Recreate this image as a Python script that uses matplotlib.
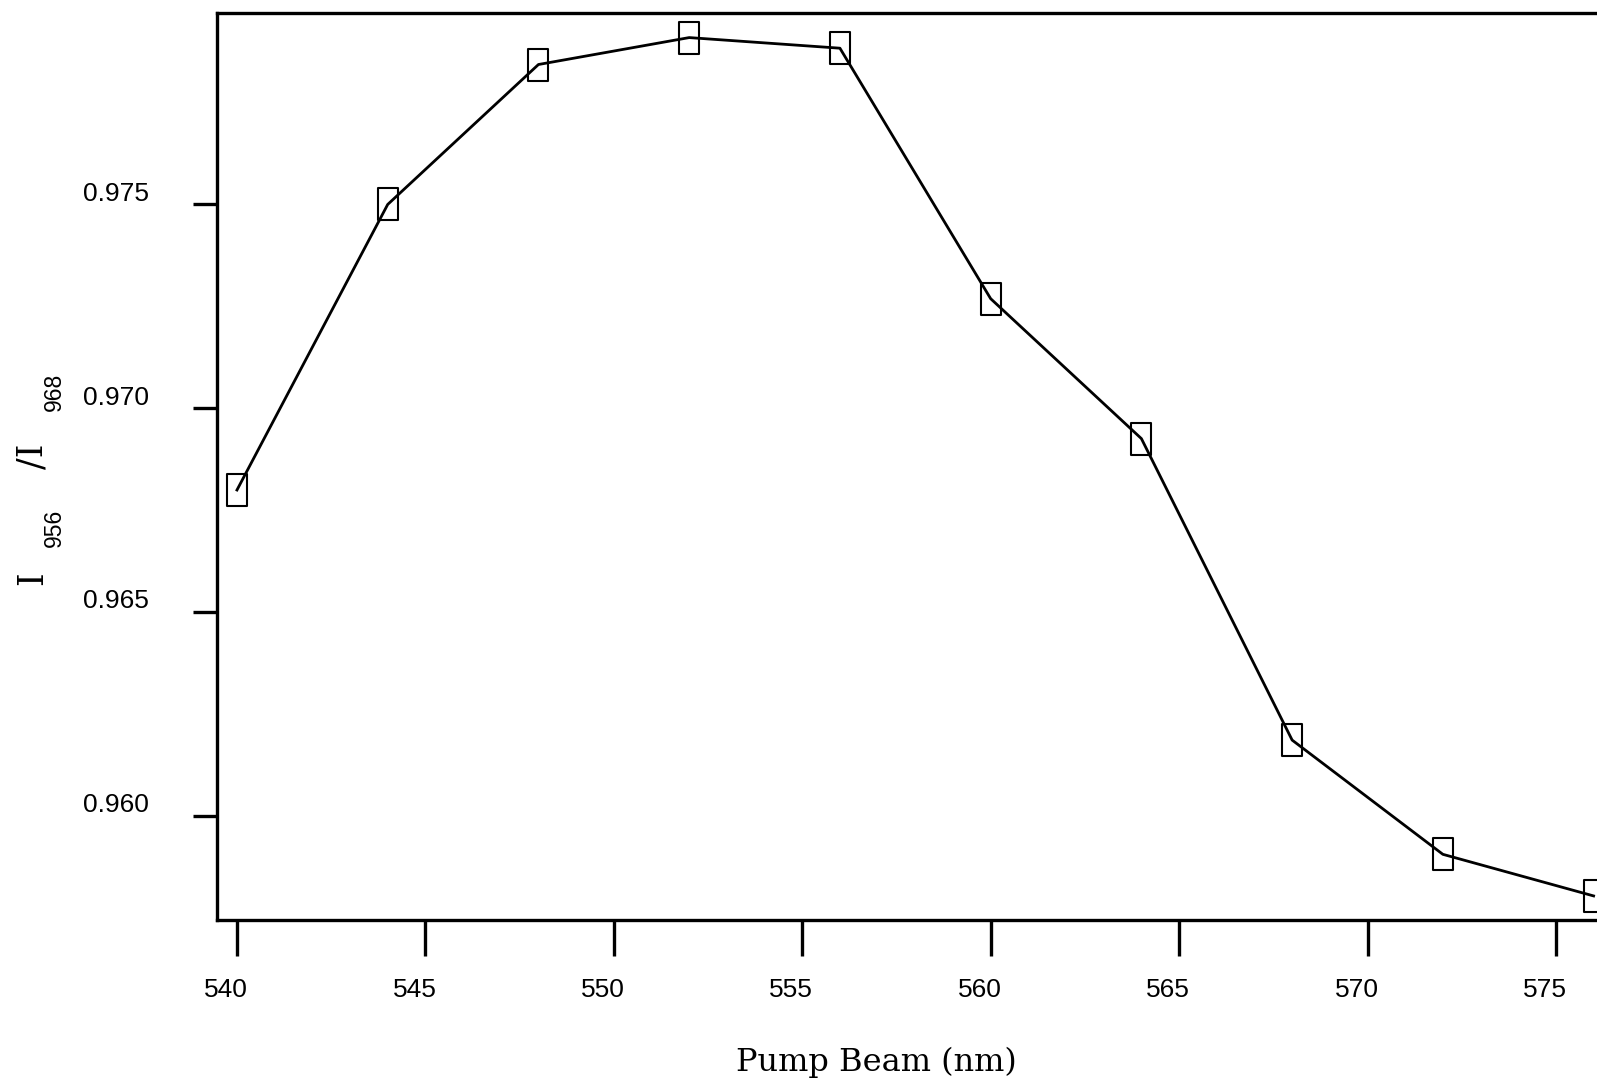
import matplotlib
matplotlib.use("Agg")
import matplotlib.pyplot as plt
from matplotlib.path import Path
from matplotlib.transforms import ScaledTranslation

# Data
pump_nm = [540, 544, 548, 552, 556, 560, 564, 568, 572, 576]
ratio = [0.96799, 0.97499, 0.97842, 0.97908, 0.97882, 0.97268, 0.96925, 0.96186, 0.95906, 0.95804]
xticks = [540, 545, 550, 555, 560, 565, 570, 575]
yticks = [0.960, 0.965, 0.970, 0.975]
ytick_labels = ["0.960", "0.965", "0.970", "0.975"]

W, H = 1597, 1085
fig = plt.figure(figsize=(W / 100, H / 100), dpi=100)
left, right, top, bottom = 217, 1597, 12.7, 920
ax = fig.add_axes([left / W, 1 - bottom / H, (right - left) / W, (bottom - top) / H])

rect = Path([(-0.32, -0.5), (0.32, -0.5), (0.32, 0.5), (-0.32, 0.5), (-0.32, -0.5)],
            [Path.MOVETO, Path.LINETO, Path.LINETO, Path.LINETO, Path.CLOSEPOLY])

ax.plot(pump_nm, ratio, color="black", lw=2.0, marker=rect, markersize=23,
        markerfacecolor="none", markeredgecolor="black", markeredgewidth=1.5,
        clip_on=False, zorder=3)

ax.set_xlim(539.47, 576.09)
ax.set_ylim(0.95745, 0.97969)
ax.spines["right"].set_visible(False)
for s in ["left", "bottom", "top"]:
    ax.spines[s].set_linewidth(2.4)

ax.set_xticks(xticks)
ax.set_xticklabels([str(v) for v in xticks])
ax.set_yticks(yticks)
ax.set_yticklabels(ytick_labels)
ax.tick_params(axis="x", direction="out", length=26, width=2.4, pad=16,
               labelsize=19)
ax.tick_params(axis="y", direction="out", length=17, width=2.4, pad=32,
               labelsize=19)
for lab in ax.get_xticklabels():
    lab.set_fontfamily("Liberation Sans")
    lab.set_transform(lab.get_transform() + ScaledTranslation(-11 / 100, 0, fig.dpi_scale_trans))
for lab in ax.get_yticklabels():
    lab.set_fontfamily("Liberation Sans")
    lab.set_transform(lab.get_transform() + ScaledTranslation(0, 13 / 100, fig.dpi_scale_trans))

# x label
fig.text(876 / W, 1 - 1071 / H, "Pump Beam (nm)", ha="center", va="baseline",
         fontsize=23, family="DejaVu Serif")

# y label pieces
def ylab(x, y, s, fam, size):
    fig.text(x / W, 1 - y / H, s, rotation=90, rotation_mode="anchor",
             ha="center", va="baseline", fontsize=size, family=fam)

ylab(42, 578, "I", "DejaVu Serif", 25)
ylab(61, 528, "956", "Liberation Sans", 16.5)
ylab(42, 456, "/I", "DejaVu Serif", 25)
ylab(61, 392, "968", "Liberation Sans", 16.5)

fig.savefig("out.png", dpi=100)
